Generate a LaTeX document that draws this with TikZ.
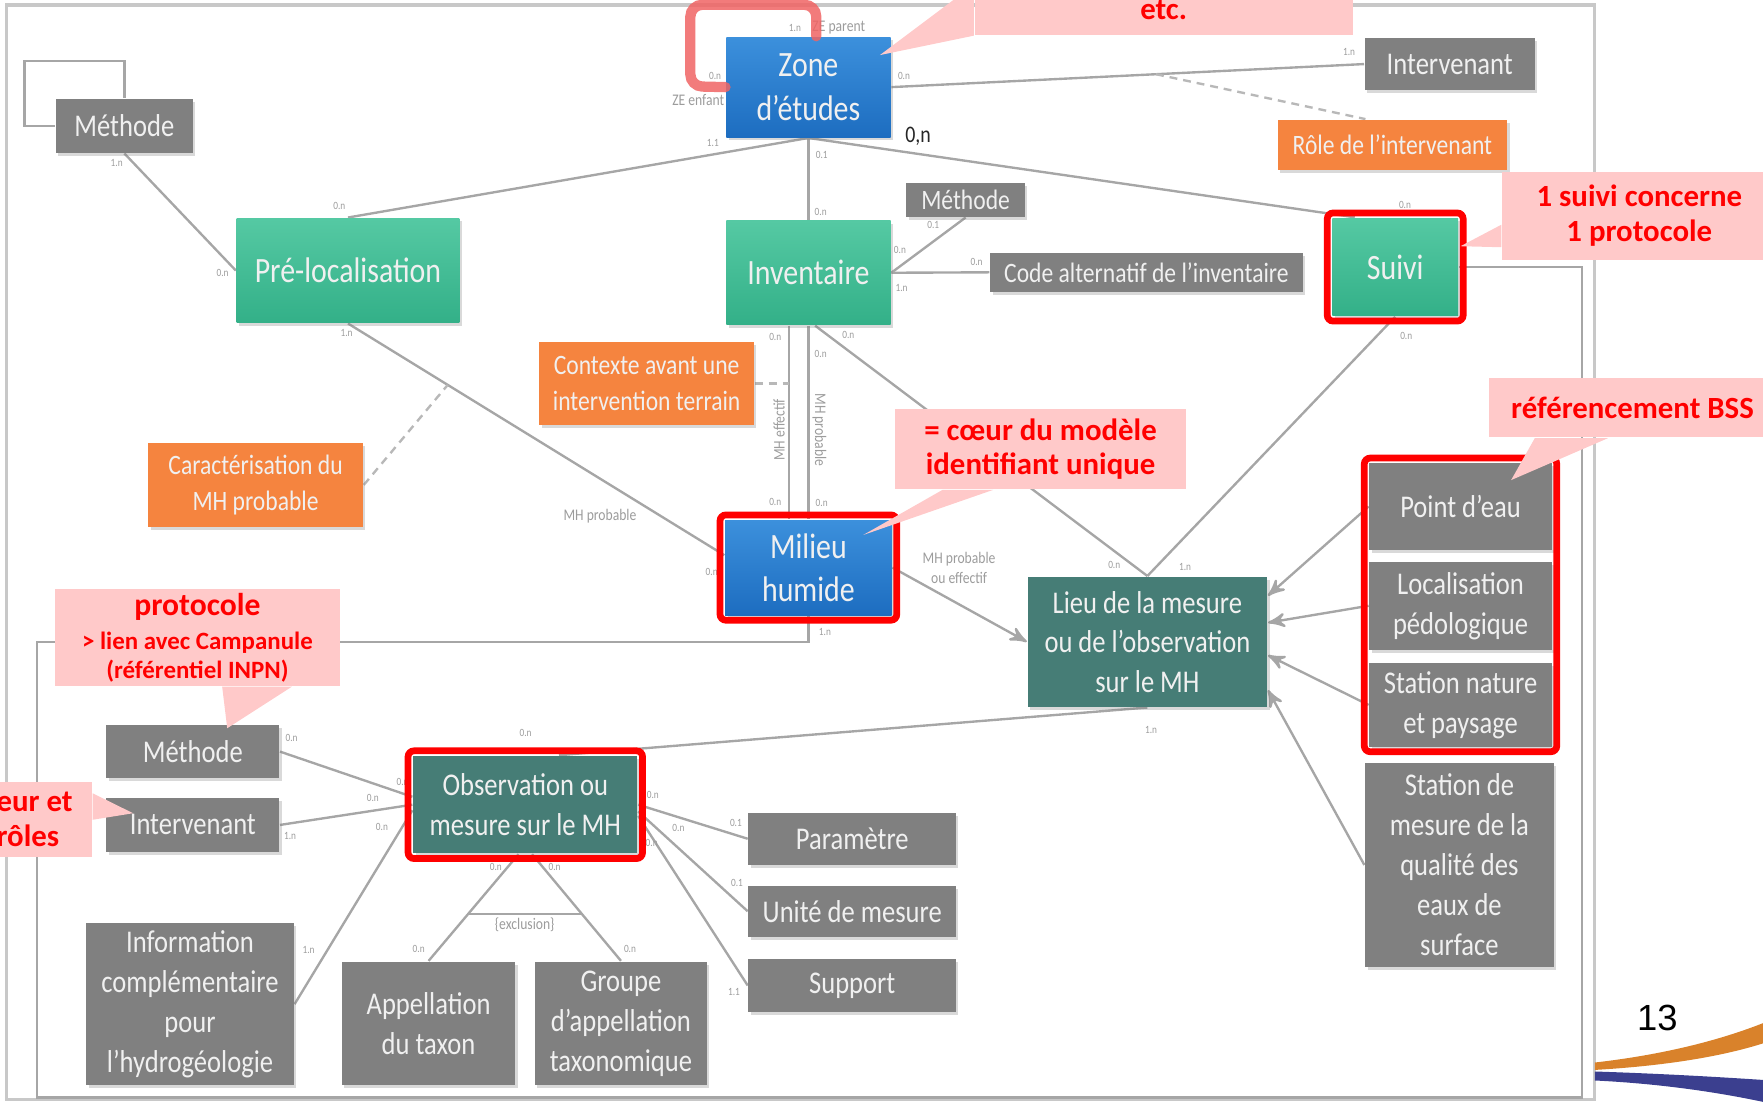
\documentclass[tikz,border=0pt]{standalone}
\usepackage{fontspec}
\setmainfont{Carlito}
\newfontfamily\boxfont{Carlito}[FakeStretch=0.84]
\newfontfamily\slidefont{Liberation Sans}
\usetikzlibrary{arrows,calc,fit,shadows,backgrounds}

\definecolor{linegrey}{HTML}{A6A6A6}
\definecolor{framegrey}{HTML}{C8C8C8}
\definecolor{cardgrey}{HTML}{9C9C9C}
\definecolor{entgrey}{HTML}{808080}
\definecolor{entblueA}{HTML}{3C90DC}
\definecolor{entblueB}{HTML}{1D6DC0}
\definecolor{entgreenA}{HTML}{55C9A3}
\definecolor{entgreenB}{HTML}{33B088}
\definecolor{entteal}{HTML}{467D76}
\definecolor{attorange}{HTML}{F5843F}
\definecolor{notepink}{HTML}{FFC9C9}
\definecolor{notered}{HTML}{FF0000}
\definecolor{loopred}{HTML}{F06464}
\definecolor{swooshorange}{HTML}{D9822B}
\definecolor{swooshblue}{HTML}{3B3F8F}

\begin{document}
\begin{tikzpicture}[x=0.01cm, y=-0.01cm,
    ent/.style={rectangle, inner sep=1pt, align=center, text=white!94!black,
      drop shadow={shadow xshift=0.6pt, shadow yshift=-0.8pt, opacity=0.3}},
    grey/.style={ent, fill=entgrey, font=\boxfont\fontsize{8}{10.1}\selectfont},
    greysmall/.style={ent, fill=entgrey, font=\boxfont\fontsize{7.1}{8.5}\selectfont},
    blueent/.style={ent, top color=entblueA, bottom color=entblueB, font=\boxfont\fontsize{9}{11}\selectfont},
    greenent/.style={ent, top color=entgreenA, bottom color=entgreenB, font=\boxfont\fontsize{9}{11}\selectfont},
    tealent/.style={ent, fill=entteal, font=\boxfont\fontsize{8}{10}\selectfont},
    attr/.style={ent, fill=attorange, font=\boxfont\fontsize{7.1}{9}\selectfont},
    note/.style={rectangle, fill=notepink, text=notered, inner sep=0pt, align=center,
      font=\bfseries\fontsize{7.8}{8.8}\selectfont},
    hl/.style={draw=notered, line width=1.7pt, rounded corners=1.5pt, inner sep=1.1pt},
    card/.style={inner sep=0pt, text=cardgrey, font=\boxfont\fontsize{2.8}{3.4}\selectfont},
    rolelbl/.style={inner sep=0pt, text=cardgrey, align=center, font=\boxfont\fontsize{4.1}{5.1}\selectfont},
    link/.style={draw=linegrey, line width=0.6pt},
    arr/.style={link, -stealth'},
    soft/.style={draw=linegrey!80, line width=0.6pt, dash pattern=on 2pt off 1.5pt},
    frame/.style={draw=framegrey, line width=0.8pt}]
\useasboundingbox (0,0) rectangle (1568,980);

% entities
\node [grey, minimum width=1.22cm, minimum height=0.475cm] (meth1) at (110.6,112) {Méthode};
\node [blueent, minimum width=1.46cm, minimum height=0.89cm] (zone) at (719,77.5) {Zone\\d’études};
\node [grey, minimum width=1.51cm, minimum height=0.46cm] (interv1) at (1289.4,57) {Intervenant};
\node [attr, minimum width=2.04cm, minimum height=0.443cm] (role) at (1238.4,128.8) {Rôle de l’intervenant};
\node [greenent, minimum width=1.98cm, minimum height=0.928cm] (preloc) at (309.5,240.6) {Pré-localisation};
\node [greenent, minimum width=1.46cm, minimum height=0.927cm] (invent) at (719,242.6) {Inventaire};
\node [greysmall, minimum width=1.056cm, minimum height=0.297cm] (meth2) at (858.8,177.9) {Méthode};
\node [greysmall, minimum width=2.776cm, minimum height=0.344cm] (code) at (1019.6,242.2) {Code alternatif de l’inventaire};
\node [greenent, minimum width=1.117cm, minimum height=0.87cm] (suivi) at (1240.9,237.5) {Suivi};
\node [attr, minimum width=1.91cm, minimum height=0.741cm] (context) at (575.1,341) {Contexte avant une\\intervention terrain};
\node [attr, minimum width=1.91cm, minimum height=0.741cm] (caract) at (227.3,431.3) {Caractérisation du\\MH probable};
\node [blueent, minimum width=1.48cm, minimum height=0.845cm] (milieu) at (719,504.8) {Milieu\\humide};
\node [tealent, minimum width=2.13cm, minimum height=1.155cm] (lieu) at (1020.5,570.8) {Lieu de la mesure\\ou de l’observation\\sur le MH};
\node [grey, minimum width=1.62cm, minimum height=0.77cm] (pteau) at (1299,450.5) {Point d’eau};
\node [grey, minimum width=1.62cm, minimum height=0.785cm] (locped) at (1299,538.8) {Localisation\\pédologique};
\node [grey, minimum width=1.62cm, minimum height=0.74cm] (stnat) at (1299,627) {Station nature\\et paysage};
\node [grey, minimum width=1.676cm, minimum height=1.808cm] (stmes) at (1298,769.3) {Station de\\mesure de la\\qualité des\\eaux de\\surface};
\node [grey, minimum width=1.536cm, minimum height=0.474cm] (meth3) at (171.5,668.5) {Méthode};
\node [grey, minimum width=1.536cm, minimum height=0.474cm] (interv2) at (171.5,733.7) {Intervenant};
\node [tealent, minimum width=1.993cm, minimum height=0.866cm] (obs) at (467.2,715.7) {Observation ou\\mesure sur le MH};
\node [grey, minimum width=1.845cm, minimum height=0.465cm] (param) at (758,746) {Paramètre};
\node [grey, minimum width=1.845cm, minimum height=0.45cm] (unite) at (758,810.5) {Unité de mesure};
\node [grey, minimum width=1.845cm, minimum height=0.466cm] (support) at (758,876.5) {Support};
\node [grey, minimum width=1.845cm, minimum height=1.438cm] (infocomp) at (169,893.1) {Information\\complémentaire\\pour\\l’hydrogéologie};
\node [grey, minimum width=1.539cm, minimum height=1.097cm] (appel) at (381.2,910.2) {Appellation\\du taxon};
\node [grey, minimum width=1.531cm, minimum height=1.097cm] (groupe) at (552.3,910.2) {Groupe\\d’appellation\\taxonomique};

% points on links
\coordinate (rolept) at ($(zone.east)!0.56!(interv1.west)$);
\coordinate (mhl) at ([shift={(-17,0)}]invent.south);
\coordinate (caractpt) at ($(preloc.south)!0.265!([shift={(0,-11)}]milieu.west)$);
\coordinate (obsl) at ([shift={(-6,0)}]obs.south);
\coordinate (obsr) at ([shift={(6,0)}]obs.south);
\coordinate (exa) at ($(obsl)!0.56!(appel.north)$);
\coordinate (exb) at ($(obsr)!0.56!(groupe.north)$);

\begin{scope}[on background layer]
  \draw [frame] (6,4.4) rectangle (1418.5,978);
  \draw [link] (milieu.south) |- (33,571) |- (1407,976) |- (suivi.east);
  \draw [link] (meth1.south) -- (preloc.west);
  \draw [link] (meth1.west) -| ++(-27,-58) -| (meth1.north);
  \draw [link] (zone.south) -- (preloc.north);
  \draw [link] (zone.south) -- (invent.north);
  \draw [link] (zone.south) -- ([shift={(-36,0)}]suivi.north);
  \draw [link] (zone.east) -- (interv1.west);
  \draw [soft] (rolept) -- ([shift={(-24,0)}]role.north);
  \draw [link] (invent.east) -- (meth2.south);
  \draw [link] (invent.east) -- (code.west);
  \draw [link] (mhl) -- (mhl |- milieu.north);
  \draw [link] (invent.south) -- (milieu.north);
  \draw [link] ([shift={(6,0)}]invent.south) -- (lieu.north);
  \draw [soft] (context.east) -- (context.east -| mhl);
  \draw [link] (preloc.south) -- ([shift={(0,-11)}]milieu.west);
  \draw [soft] (caract.east) -- (caractpt);
  \draw [link] (suivi.south) -- (lieu.north);
  \draw [arr] (milieu.east) -- (lieu.west);
  \draw [arr] (pteau.west) -- ([shift={(0,-41)}]lieu.east);
  \draw [arr] (locped.west) -- ([shift={(0,-17)}]lieu.east);
  \draw [arr] (stnat.west) -- ([shift={(0,12)}]lieu.east);
  \draw [arr] (stmes.west) -- ([shift={(0,43)}]lieu.east);
  \draw [link] (lieu.south) -- ([shift={(30,0)}]obs.north);
  \draw [link] (meth3.east) -- ([shift={(0,-7)}]obs.west);
  \draw [link] (interv2.east) -- (obs.west);
  \draw [link] (infocomp.east) -- ([shift={(0,5)}]obs.west);
  \draw [link] (obs.east) -- (param.west);
  \draw [link] ([shift={(0,6)}]obs.east) -- (unite.west);
  \draw [link] ([shift={(0,10)}]obs.east) -- (support.west);
  \draw [link] (obsl) -- (appel.north);
  \draw [link] (obsr) -- (groupe.north);
  \draw [link] (exa) -- (exb);
\end{scope}

% cardinalities
\node [card] (k1) at (707,25) {1.n};
\node [rolelbl] (zepar) at (746,25) {ZE parent};
\node [card] (k2) at (636,68) {0.n};
\node [rolelbl] (zeenf) at (621,89) {ZE enfant};
\node [card] (k3) at (634,127.5) {1.1};
\node [card] (k4) at (730.8,137.8) {0.1};
\node [card] (k5) at (804,68) {0.n};
\node [inner sep=0pt, text=black!85, font=\boxfont\fontsize{6}{7}\selectfont] (k6) at (816.6,121.6) {0,n};
\node [card] (k7) at (1199.8,46) {1.n};
\node [card] (k8) at (1249.6,182) {0.n};
\node [card] (k9) at (103.8,144.7) {1.n};
\node [card] (k10) at (198,243) {0.n};
\node [card] (k11) at (301.8,183.2) {0.n};
\node [card] (k12) at (308.3,296.4) {1.n};
\node [card] (k13) at (729.9,188.3) {0.n};
\node [card] (k14) at (800.4,222.3) {0.n};
\node [card] (k15) at (830,200) {0.1};
\node [card] (k16) at (801.9,256.4) {1.n};
\node [card] (k17) at (868.6,232.7) {0.n};
\node [card] (k18) at (689.5,299.4) {0.n};
\node [card] (k19) at (754.5,298) {0.n};
\node [card] (k20) at (729.9,314.8) {0.n};
\node [card] (k21) at (689.5,446) {0.n};
\node [card] (k22) at (730.8,447.6) {0.n};
\node [rolelbl, rotate=90] (mheff) at (693,382.4) {MH effectif};
\node [rolelbl, rotate=-90] (mhprob) at (728.7,382.4) {MH probable};
\node [rolelbl] (mhprob2) at (533.6,459.5) {MH probable};
\node [card] (k23) at (633,508.4) {0.n};
\node [rolelbl] (mhpe) at (853,505) {MH probable\\ou effectif};
\node [card] (k24) at (733.7,561.8) {1.n};
\node [card] (k25) at (991,502.5) {0.n};
\node [card] (k26) at (1054,504) {1.n};
\node [card] (k27) at (1250.7,298.8) {0.n};
\node [card] (k28) at (1023.7,649) {1.n};
\node [card] (k29) at (467.5,652.2) {0.n};
\node [card] (k30) at (259.3,656.6) {0.n};
\node [card] (k31) at (358,695.2) {0.n};
\node [card] (k32) at (331.6,710) {0.n};
\node [card] (k33) at (258,743.5) {1.n};
\node [card] (k34) at (339.7,735.8) {0.n};
\node [card] (k35) at (274.4,845) {1.n};
\node [card] (k36) at (580.6,707) {0.n};
\node [card] (k37) at (603.4,736.7) {0.n};
\node [card] (k38) at (579.6,750) {0.n};
\node [card] (k39) at (654.5,731.7) {0.1};
\node [card] (k40) at (655.5,785.6) {0.1};
\node [card] (k41) at (652.8,882) {1.1};
\node [card] (k42) at (441,771.4) {0.n};
\node [card] (k43) at (493.3,771.4) {0.n};
\node [card] (k44) at (372.4,844.3) {0.n};
\node [card] (k45) at (560.3,844.3) {0.n};
\node [rolelbl] (excl) at (466.7,822.7) {\{exclusion\}};

% highlights
\draw [loopred, opacity=0.85, line width=2.6pt, rounded corners=3pt, line cap=round]
  ([shift={(7,0)}]zone.north) -- ++(0,-28) -| ++(-112,72.5) -- (zone.west);
\node [hl, fit=(suivi)] (suivifr) {};
\node [hl, fit=(milieu)] (milieufr) {};
\node [hl, fit=(obs)] (obsfr) {};
\node [hl, fit=(pteau)(stnat)] (bssfr) {};

% notes
\node [note, minimum width=3.36cm, minimum height=0.44cm] (etcnote) at (1035,9) {etc.};
\coordinate (etctip) at (782.6,49);
\fill [notepink] (etcnote.north west) -- (etctip) -- (etcnote.south west) -- cycle;
\node [note, minimum width=2.44cm, minimum height=0.783cm] (suivinote) at (1458,191.9) {1 suivi concerne\\1 protocole};
\coordinate (suivitip) at (1299,219);
\fill [notepink] ([shift={(0,8)}]suivinote.west) -- (suivitip) -- ([shift={(0,28)}]suivinote.west) -- cycle;
\node [note, minimum width=2.56cm, minimum height=0.525cm] (bssnote) at (1452,362.8) {référencement BSS};
\coordinate (bsstip) at (1344,427);
\fill [notepink] ([shift={(-87,0)}]bssnote.south) -- (bsstip) -- ([shift={(-22,0)}]bssnote.south) -- cycle;
\node [note, minimum width=2.59cm, minimum height=0.71cm] (coeurnote) at (925.5,399.5) {= cœur du modèle\\identifiant unique};
\coordinate (coeurtip) at (767.8,475.8);
\fill [notepink] ([shift={(43,0)}]coeurnote.south west) -- (coeurtip) -- ([shift={(88,0)}]coeurnote.south west) -- cycle;
\node [note, minimum width=2.533cm, minimum height=0.86cm, font=\bfseries\fontsize{6.3}{7.2}\selectfont] (protonote) at (175.6,567)
  {{\fontsize{8}{9}\selectfont protocole}\\[1.6pt]> lien avec Campanule\\(référentiel INPN)};
\coordinate (prototip) at (202.1,647.7);
\fill [notepink] ([shift={(22,0)}]protonote.south) -- (prototip) -- ([shift={(84,0)}]protonote.south) -- cycle;
\node [note, text width=0.847cm, align=flush left, minimum height=0.667cm] (rolesnote) at (39.4,728.6) {eur et\\rôles};
\coordinate (rolestip) at (118.4,723.3);
\fill [notepink] ([shift={(0,-23)}]rolesnote.east) -- (rolestip) -- ([shift={(0,0.5)}]rolesnote.east) -- cycle;

% slide decoration
\node [font=\slidefont\fontsize{9.2}{10}\selectfont] (pagenum) at (1474,905) {13};
\fill [swooshorange] (1418.5,945) .. controls (1480,938) and (1530,925) .. (1568,910)
  -- (1568,928) .. controls (1530,940) and (1480,948) .. (1418.5,951.6) -- cycle;
\fill [swooshblue] (1418.5,953) .. controls (1480,955) and (1530,958) .. (1568,960.5)
  -- (1568,980) .. controls (1530,972) and (1480,964) .. (1418.5,961) -- cycle;
\end{tikzpicture}
\end{document}
